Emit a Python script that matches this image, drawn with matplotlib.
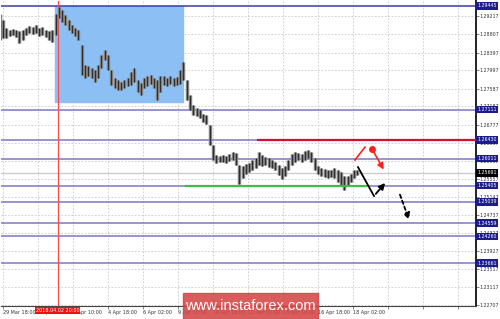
import matplotlib.pyplot as plt
import matplotlib.patches as mpatches
import numpy as np

# 3-hour chunks of the H1 chart (high / low)
highs = [1.2926, 1.2913, 1.2895, 1.2890, 1.2893, 1.2890, 1.2888, 1.2890, 1.2895, 1.2899,
         1.2897, 1.2902, 1.2895, 1.2897, 1.2890, 1.2888, 1.2890, 1.2926, 1.2942, 1.2935,
         1.2924, 1.2913, 1.2902, 1.2895, 1.2890, 1.2857, 1.2812, 1.2809, 1.2805, 1.2800,
         1.2812, 1.2834, 1.2846, 1.2834, 1.2800, 1.2783, 1.2778, 1.2774, 1.2778, 1.2783,
         1.2796, 1.2805, 1.2778, 1.2771, 1.2783, 1.2787, 1.2789, 1.2783, 1.2778, 1.2787,
         1.2787, 1.2783, 1.2787, 1.2783, 1.2785, 1.2800, 1.2818, 1.2778, 1.2744, 1.2722,
         1.2715, 1.2711, 1.2702, 1.2699, 1.2677, 1.2632, 1.2609, 1.2607, 1.2609, 1.2607,
         1.2612, 1.2616, 1.2614, 1.2587, 1.2585, 1.2589, 1.2591, 1.2598, 1.2603, 1.2616,
         1.2609, 1.2605, 1.2603, 1.2598, 1.2594, 1.2587, 1.2580, 1.2585, 1.2598, 1.2612,
         1.2616, 1.2614, 1.2612, 1.2618, 1.2621, 1.2616, 1.2603, 1.2585, 1.2580, 1.2578,
         1.2576, 1.2576, 1.2580, 1.2576, 1.2571, 1.2562, 1.2562, 1.2567, 1.2576, 1.2576]
lows = [1.2868, 1.2872, 1.2872, 1.2877, 1.2879, 1.2875, 1.2861, 1.2868, 1.2879, 1.2884,
        1.2882, 1.2884, 1.2877, 1.2879, 1.2875, 1.2868, 1.2864, 1.2879, 1.2917, 1.2908,
        1.2902, 1.2890, 1.2884, 1.2877, 1.2868, 1.2789, 1.2783, 1.2787, 1.2783, 1.2774,
        1.2783, 1.2805, 1.2823, 1.2800, 1.2767, 1.2760, 1.2756, 1.2756, 1.2760, 1.2765,
        1.2767, 1.2774, 1.2751, 1.2744, 1.2760, 1.2765, 1.2769, 1.2760, 1.2733, 1.2751,
        1.2767, 1.2765, 1.2769, 1.2765, 1.2767, 1.2769, 1.2778, 1.2733, 1.2711, 1.2699,
        1.2697, 1.2693, 1.2683, 1.2679, 1.2632, 1.2598, 1.2591, 1.2594, 1.2594, 1.2591,
        1.2596, 1.2598, 1.2587, 1.2544, 1.2558, 1.2567, 1.2571, 1.2576, 1.2580, 1.2587,
        1.2585, 1.2587, 1.2582, 1.2580, 1.2576, 1.2564, 1.2555, 1.2562, 1.2576, 1.2587,
        1.2594, 1.2598, 1.2594, 1.2598, 1.2603, 1.2594, 1.2576, 1.2567, 1.2562, 1.2560,
        1.2558, 1.2560, 1.2558, 1.2549, 1.2540, 1.2531, 1.2540, 1.2549, 1.2558, 1.2564]

date_labels = ['29 Mar 18:00', '2 Apr 02:00', '3 Apr 10:00', '4 Apr 18:00', '6 Apr 02:00',
               '9 Apr 10:00', '10 Apr 18:00', '12 Apr 02:00', '13 Apr 10:00', '16 Apr 18:00',
               '18 Apr 02:00', '', '', '']
price_ticks = [1.29217, 1.28807, 1.28397, 1.27997, 1.27587, 1.27187, 1.26777, 1.26367,
               1.25967, 1.25557, 1.25147, 1.24737, 1.24327, 1.23927, 1.23517, 1.23117, 1.22707]
levels = [1.29445, 1.27111, 1.26430, 1.26011, 1.25405, 1.25039, 1.24559, 1.24260, 1.23661]
current_price = 1.25691
resistance = 1.26430
support = 1.25405

marker_bar = 50                      # 2018.04.02 20:00
box_bars = (47.5, 164.6)
box_prices = (1.27285, 1.29445)
red_line_from = 233
green_line = (167, 332)

red_up = [(321.8, 1.2598), (331.0, 1.2627)]
red_down = [(337.4, 1.2623), (349.3, 1.2571)]
black_path = [(324.6, 1.2582), (339.2, 1.2517)]
black_up = [(339.2, 1.2517), (351.1, 1.2551)]
black_dash = [(362.1, 1.2526), (372.1, 1.2458)]

bar_index = np.arange(len(highs)) * 3 - 3

fig = plt.figure(figsize=(5, 3.19), dpi=100)
ax = fig.add_axes([0.001, 13 / 319, 0.951, 305 / 319])
ax.set_xlim(-2.3, 432.5)
ax.set_ylim(1.22695, 1.295575)

ax.grid(True, color='#c8c8c8', linestyle=(0, (2, 2)), linewidth=0.6)
ax.set_axisbelow(True)

ax.add_patch(mpatches.Rectangle((box_bars[0], box_prices[0]), box_bars[1] - box_bars[0],
                                box_prices[1] - box_prices[0], color='#8cc0f5', zorder=1))

for i, lv in enumerate(levels):
    ax.axhline(lv, color='#3c3ca8' if i == 0 else '#7878c8', lw=1.1, zorder=2)
ax.axhline(current_price, color='#c8c8c8', lw=0.9, zorder=2)
ax.axvline(marker_bar, color='#ff4a4a', lw=0.9, zorder=2)

# price bars: a soft band plus darker cores
ax.vlines(bar_index, lows, highs, color='#8a8a8a', lw=2.5, zorder=3)
ax.vlines(bar_index, lows, highs, color='#2e2e2e', lw=0.9, zorder=3)

ax.plot([red_line_from, 432.5], [resistance, resistance], color='#d41030', lw=1.6, zorder=4)
ax.plot(green_line, [support, support], color='#44bb44', lw=1.6, zorder=4)

ax.plot(*zip(*red_up), color='#ff2020', lw=1.2, zorder=5)
ax.plot(*red_down[0], 'o', color='#ff2020', ms=4, zorder=5)
ax.annotate('', xy=red_down[1], xytext=red_down[0],
            arrowprops=dict(arrowstyle='-|>', color='#ff2020', lw=1.2, mutation_scale=9), zorder=5)
ax.plot(*zip(*black_path), color='black', lw=1.3, zorder=5)
ax.annotate('', xy=black_up[1], xytext=black_up[0],
            arrowprops=dict(arrowstyle='-|>', color='black', lw=1.3, mutation_scale=9), zorder=5)
ax.annotate('', xy=black_dash[1], xytext=black_dash[0],
            arrowprops=dict(arrowstyle='-|>', color='black', lw=1.3, linestyle=(0, (2, 1.5)),
                            mutation_scale=9), zorder=5)

# axes
ax.set_xticks(np.arange(len(date_labels)) * 32)
ax.set_xticklabels(date_labels, fontsize=3.5, color='#333333')
for lbl in ax.get_xticklabels():
    lbl.set_ha('left')
ax.set_yticks(price_ticks)
ax.set_yticklabels(['%.5f' % p for p in price_ticks], fontsize=3.4, color='#333333')
ax.yaxis.tick_right()
ax.tick_params(axis='both', length=2, width=0.5, pad=0.8, color='#555555')
for s in ['top', 'left']:
    ax.spines[s].set_visible(False)
ax.spines['right'].set_color('#222222')
ax.spines['right'].set_linewidth(1.4)
ax.spines['bottom'].set_color('#444444')
ax.spines['bottom'].set_linewidth(0.8)

ytr = ax.get_yaxis_transform()
for lv in levels:
    ax.text(1.003, lv, '%.5f' % lv, transform=ytr, fontsize=3.4, color='white', va='center',
            ha='left', clip_on=False, zorder=10,
            bbox=dict(fc='#1c1c8c', ec='none', pad=0.9))
ax.text(1.003, current_price, '%.5f' % current_price, transform=ytr, fontsize=3.4, color='white',
        va='center', ha='left', clip_on=False, zorder=10, bbox=dict(fc='black', ec='none', pad=0.9))

ax.text(marker_bar, -0.006, '2018.04.02 20:00', transform=ax.get_xaxis_transform(), fontsize=3.5,
        color='white', ha='center', va='top', clip_on=False, zorder=10,
        bbox=dict(fc='#f01010', ec='none', pad=0.6))

# watermark
fig.patches.append(mpatches.Rectangle((0.366, 0.0), 0.27, 0.082, transform=fig.transFigure,
                                      color='#d44646', alpha=0.88, zorder=20))
fig.text(0.501, 0.041, 'www.instaforex.com', fontsize=10.5, family='Liberation Sans',
         color='white', ha='center', va='center', zorder=21)

fig.savefig('out.png', dpi=100)
